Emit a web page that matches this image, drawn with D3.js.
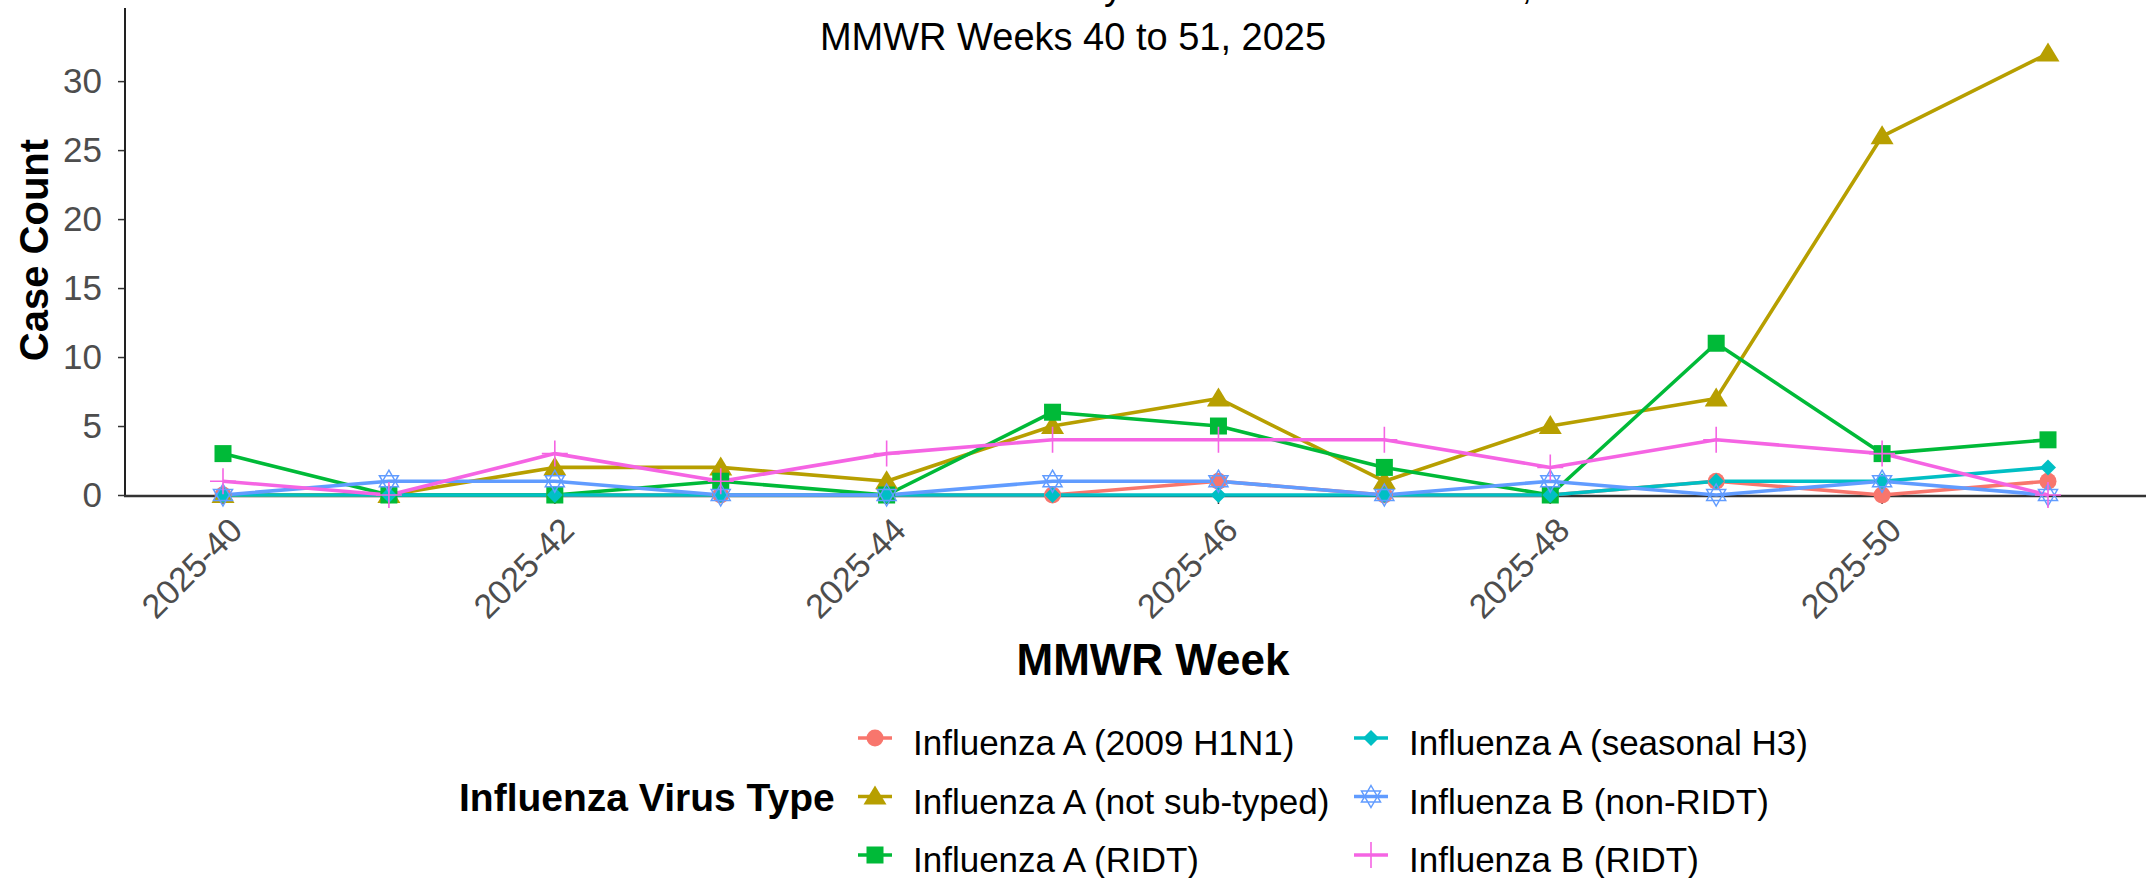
<!DOCTYPE html>
<meta charset="utf-8">
<script src="https://cdn.jsdelivr.net/npm/d3@7"></script>
<style>
    body { margin: 0; background: #fff; }
    text { font-family: "Liberation Sans", Arial, sans-serif; }
</style>
<div id="chart"></div>
<script>
    // weeks on the x axis, only every other one gets a label
    const weeks = ["2025-40", "2025-41", "2025-42", "2025-43", "2025-44", "2025-45",
        "2025-46", "2025-47", "2025-48", "2025-49", "2025-50", "2025-51"];
    const tickWeeks = ["2025-40", "2025-42", "2025-44", "2025-46", "2025-48", "2025-50"];
    const yTicks = [0, 5, 10, 15, 20, 25, 30];

    const seriesNames = ["Influenza A (2009 H1N1)", "Influenza A (not sub-typed)", "Influenza A (RIDT)",
        "Influenza A (seasonal H3)", "Influenza B (non-RIDT)", "Influenza B (RIDT)"];
    const seriesColors = ["#F8766D", "#B79F00", "#00BA38", "#00BFC4", "#619CFF", "#F564E3"];
    const seriesShapes = ["circle", "triangle", "square", "diamond", "star", "plus"];

    // case counts per week
    const h1n1 = [0, 0, 0, 0, 0, 0, 1, 0, 0, 1, 0, 1];
    const notSubtyped = [0, 0, 2, 2, 1, 5, 7, 1, 5, 7, 26, 32];
    const aRidt = [3, 0, 0, 1, 0, 6, 5, 2, 0, 11, 3, 4];
    const seasonalH3 = [0, 0, 0, 0, 0, 0, 0, 0, 0, 1, 1, 2];
    const bNonRidt = [0, 1, 1, 0, 0, 1, 1, 0, 1, 0, 1, 0];
    const bRidt = [1, 0, 3, 1, 3, 4, 4, 4, 2, 4, 3, 0];

    const values = [h1n1, notSubtyped, aRidt, seasonalH3, bNonRidt, bRidt];
    const series = seriesNames.map(function (name, i) {
        return {
            name: name, color: seriesColors[i], shape: seriesShapes[i],
            points: weeks.map(function (w, j) { return {week: w, value: values[i][j]}; })
        };
    });

    const width = 2146, height = 878;

    let svg = d3.select("#chart")
        .append("svg")
        .attr("width", width)
        .attr("height", height);

    let x = d3.scalePoint()
        .domain(weeks)
        .range([223, 2048]);

    let y = d3.scaleLinear()
        .domain([0, 35.3])
        .range([495, 8]);

    // title (first line runs off the top of the picture)
    svg.append("text")
        .attr("x", 1073).attr("y", -1)
        .attr("text-anchor", "middle")
        .style("font-size", "38px")
        .text("Influenza Cases Confirmed by Virus Strain in the Area,");
    svg.append("text")
        .attr("x", 1073).attr("y", 50)
        .attr("text-anchor", "middle")
        .style("font-size", "38px")
        .text("MMWR Weeks 40 to 51, 2025");

    // axes
    let yAxis = svg.append("g")
        .attr("transform", "translate(125,0)")
        .call(d3.axisLeft(y).tickValues(yTicks).tickSize(7).tickPadding(16));
    yAxis.select(".domain").remove();
    yAxis.selectAll("line").attr("stroke", "#333").attr("stroke-width", 1.5);
    yAxis.selectAll("text")
        .attr("fill", "#4D4D4D")
        .style("font-size", "35px")
        .style("font-family", "'Liberation Sans', Arial, sans-serif");

    svg.append("line")
        .attr("x1", 125).attr("x2", 125)
        .attr("y1", 8).attr("y2", 496)
        .attr("stroke", "#222").attr("stroke-width", 2);

    svg.append("line")
        .attr("x1", 124).attr("x2", width)
        .attr("y1", 496).attr("y2", 496)
        .attr("stroke", "#333").attr("stroke-width", 2.5);

    let xTicks = svg.append("g");
    xTicks.selectAll("line")
        .data(tickWeeks)
        .enter().append("line")
        .attr("x1", function (d) { return x(d); })
        .attr("x2", function (d) { return x(d); })
        .attr("y1", 497).attr("y2", 504)
        .attr("stroke", "#333").attr("stroke-width", 1.5);
    xTicks.selectAll("text")
        .data(tickWeeks)
        .enter().append("text")
        .attr("transform", function (d) {
            return "translate(" + (x(d) + 4) + ",515) rotate(-45)";
        })
        .attr("text-anchor", "end")
        .attr("dy", "0.72em")
        .attr("fill", "#4D4D4D")
        .style("font-size", "34px")
        .text(function (d) { return d; });

    // axis titles
    svg.append("text")
        .attr("transform", "translate(48,250) rotate(-90)")
        .attr("text-anchor", "middle")
        .style("font-size", "40px")
        .style("font-weight", "bold")
        .text("Case Count");

    svg.append("text")
        .attr("x", 1153).attr("y", 675)
        .attr("text-anchor", "middle")
        .style("font-size", "44px")
        .style("font-weight", "bold")
        .text("MMWR Week");

    // marker drawing
    function drawShape(g, shape, color) {
        if (shape === "circle") {
            g.append("circle").attr("r", 8.5).attr("fill", color);
        } else if (shape === "triangle") {
            g.append("path").attr("d", "M0,-11L11.5,8L-11.5,8Z").attr("fill", color);
        } else if (shape === "square") {
            g.append("rect").attr("x", -8.5).attr("y", -8.5)
                .attr("width", 17).attr("height", 17).attr("fill", color);
        } else if (shape === "diamond") {
            g.append("path").attr("d", "M0,-8L8,0L0,8L-8,0Z").attr("fill", color);
        } else if (shape === "star") {
            g.append("path").attr("d", "M0,-11L9.5,5.5L-9.5,5.5Z M0,11L9.5,-5.5L-9.5,-5.5Z")
                .attr("fill", "none").attr("stroke", color).attr("stroke-width", 1.5);
        } else if (shape === "plus") {
            g.append("path").attr("d", "M-13,0H13M0,-13V13")
                .attr("fill", "none").attr("stroke", color).attr("stroke-width", 1.6);
        }
    }

    let line = d3.line()
        .x(function (d) { return x(d.week); })
        .y(function (d) { return y(d.value); });

    // all lines first, then all points
    svg.append("g").selectAll("path")
        .data(series)
        .enter().append("path")
        .attr("d", function (d) { return line(d.points); })
        .attr("fill", "none")
        .attr("stroke", function (d) { return d.color; })
        .attr("stroke-width", 3.6)
        .attr("stroke-linejoin", "round");

    let pts = svg.append("g");
    series.forEach(function (s) {
        s.points.forEach(function (p) {
            let g = pts.append("g")
                .attr("transform", "translate(" + x(p.week) + "," + y(p.value) + ")");
            drawShape(g, s.shape, s.color);
        });
    });

    // legend
    svg.append("text")
        .attr("x", 459).attr("y", 811)
        .style("font-size", "39px")
        .style("font-weight", "bold")
        .text("Influenza Virus Type");

    const legendCols = [875, 1371];
    const legendRows = [738, 796.5, 855];

    series.forEach(function (s, i) {
        let cx = legendCols[Math.floor(i / 3)];
        let cy = legendRows[i % 3];
        let g = svg.append("g").attr("transform", "translate(" + cx + "," + cy + ")");
        g.append("line")
            .attr("x1", -17).attr("x2", 17)
            .attr("stroke", s.color).attr("stroke-width", 3.6);
        drawShape(g, s.shape, s.color);
        svg.append("text")
            .attr("x", cx + 38).attr("y", cy + 17)
            .style("font-size", "35px")
            .text(s.name);
    });
</script>
